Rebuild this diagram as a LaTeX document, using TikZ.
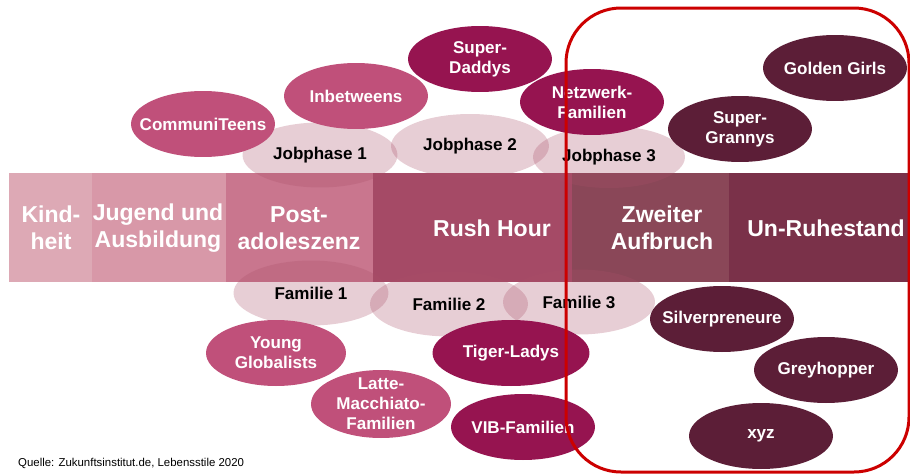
\documentclass[tikz,border=0pt]{standalone}
\usepackage{fontspec}
\setmainfont{Liberation Sans}
\usetikzlibrary{shapes.geometric}

\begin{document}
\begin{tikzpicture}[x=0.02cm,y=-0.02cm]
            \definecolor{kind_color}{RGB}{221,169,181}
            \definecolor{jugend_color}{RGB}{216,152,168}
            \definecolor{post_color}{RGB}{201,118,142}
            \definecolor{rush_color}{RGB}{165,74,102}
            \definecolor{zweit_color}{RGB}{138,71,88}
            \definecolor{ruhe_color}{RGB}{122,49,73}
            \definecolor{phase_color}{RGB}{170,80,105}
            \definecolor{teen_color}{RGB}{192,80,122}
            \definecolor{family_color}{RGB}{150,20,80}
            \definecolor{senior_color}{RGB}{92,30,55}
            \definecolor{frame_color}{RGB}{204,0,0}
            \tikzstyle{every node} = [font=\bfseries\fontsize{9.7}{11.4}\selectfont, align=center]
            \tikzstyle{stage} = [text=white, font=\bfseries\fontsize{13.1}{15.4}\selectfont]
            \tikzstyle{phase} = [ellipse, fill=phase_color, fill opacity=0.28, text opacity=1, text=black, inner sep=0pt, minimum width=3.1cm, minimum height=1.3cm]
            \tikzstyle{milieu} = [ellipse, text=white, inner sep=-0.25cm, minimum width=2.88cm, minimum height=1.32cm]
            \useasboundingbox (0,0) rectangle (910,474);
            % Lebensphasen
            \fill[kind_color] (9,173) rectangle (92,282);
            \fill[jugend_color] (92,173) rectangle (226,282);
            \fill[post_color] (226,173) rectangle (373,282);
            \fill[rush_color] (373,173) rectangle (572,282);
            \fill[zweit_color] (572,173) rectangle (729,282);
            \fill[ruhe_color] (729,173) rectangle (910,282);
            \node[stage] (kindheit) at (51,228) {Kind-\\heit};
            \node[stage] (jugend) at (158,228) {Jugend und\\Ausbildung};
            \node[stage] (post) at (299,228) {Post-\\adoleszenz};
            \node[stage] (rush) at (492,228) {Rush Hour};
            \node[stage] (zweit) at (662,228) {Zweiter\\Aufbruch};
            \node[stage] (ruhe) at (826,228) {Un-Ruhestand};
            % Job- und Familienphasen
            \node[phase] (job1) at (320,155) {Jobphase 1};
            \node[phase, minimum width=3.16cm, minimum height=1.28cm] (job2) at (470,146) {Jobphase 2};
            \node[phase, minimum width=3.04cm, minimum height=1.24cm] (job3) at (609,157) {Jobphase 3};
            \node[phase] (fam1) at (311,293) {Familie 1};
            \node[phase, minimum width=3.16cm] (fam2) at (449,304) {Familie 2};
            \node[phase, minimum width=3.04cm] (fam3) at (579,302) {Familie 3};
            % Milieus
            \node[milieu, fill=teen_color] (communi) at (203,124) {CommuniTeens};
            \node[milieu, fill=teen_color] (inbetw) at (356,96) {Inbetweens};
            \node[milieu, fill=family_color] (daddys) at (480,59) {Super-\\Daddys};
            \node[milieu, fill=family_color] (netz) at (592,102) {Netzwerk-\\Familien};
            \node[milieu, fill=senior_color] (golden) at (835,68) {Golden Girls};
            \node[milieu, fill=senior_color] (grannys) at (740,129) {Super-\\Grannys};
            \node[milieu, fill=teen_color, minimum width=2.8cm] (young) at (276,353) {Young\\Globalists};
            \node[milieu, fill=teen_color, minimum width=2.8cm, minimum height=1.36cm] (latte) at (381,404) {Latte-\\Macchiato-\\Familien};
            \node[milieu, fill=family_color, minimum width=3.14cm] (tiger) at (511,353) {Tiger-Ladys};
            \node[milieu, fill=family_color] (vib) at (523,427) {VIB-Familien};
            \node[milieu, fill=senior_color] (silver) at (722,319) {Silverpreneure};
            \node[milieu, fill=senior_color] (grey) at (826,370) {Greyhopper};
            \node[milieu, fill=senior_color] (xyz) at (761,436) {xyz};
            \node[anchor=base west, font=\fontsize{6.5}{7.8}\selectfont] (quelle) at (12,466) {Quelle: Zukunftsinstitut.de, Lebensstile 2020};
            % Markierung
            \draw[frame_color, line width=0.06cm, rounded corners=1.1cm] (566,8) rectangle (909,472);
        \end{tikzpicture}
\end{document}
